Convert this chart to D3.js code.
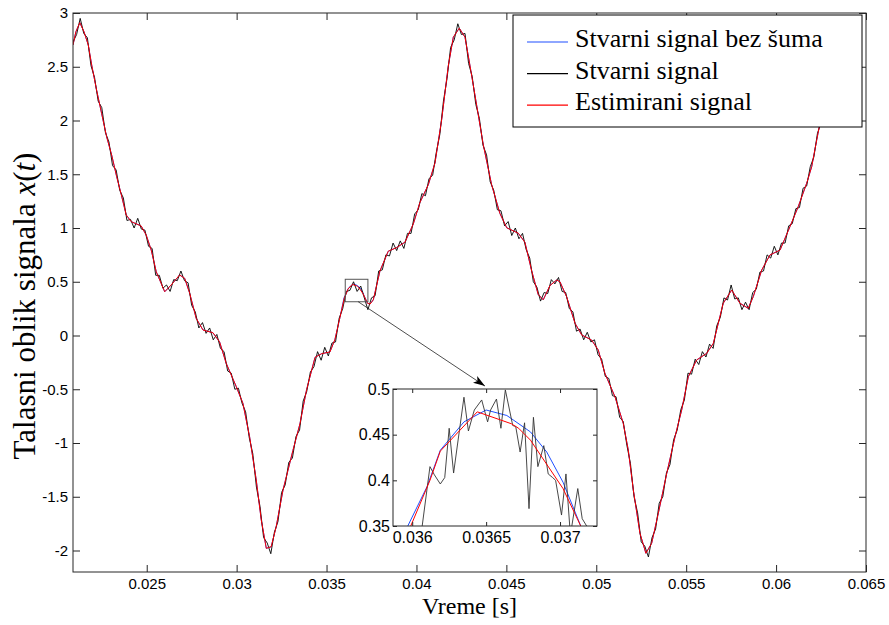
<!DOCTYPE html>
<html>
<head>
<meta charset="utf-8">
<script src="https://cdn.jsdelivr.net/npm/d3@7/dist/d3.min.js"></script>
<style>
    body { margin: 0; background: #fff; }
    svg { display: block; }
    .tick text { font-family: "Liberation Sans", Arial, sans-serif; font-size: 15px; fill: #000; }
    .inset .tick text { font-size: 16px; }
    .tick line { stroke: #262626; }
    .serif { font-family: "Liberation Serif", "Times New Roman", serif; fill: #000; }
</style>
</head>
<body>
<script>
// signal without noise: [time (s), value]
var cleanSig = [
    [0.02090, 2.702], [0.02106, 2.826], [0.02128, 2.910], [0.02151, 2.826],
    [0.02175, 2.702], [0.02194, 2.516], [0.02221, 2.284], [0.02249, 2.067],
    [0.02277, 1.849], [0.02305, 1.679], [0.02333, 1.477], [0.02359, 1.307],
    [0.02386, 1.121], [0.02414, 1.059], [0.02469, 1.019], [0.02497, 0.935],
    [0.02525, 0.795], [0.02553, 0.593], [0.02600, 0.407], [0.02636, 0.470],
    [0.02683, 0.563], [0.02711, 0.532], [0.02739, 0.393], [0.02775, 0.160],
    [0.02813, 0.051], [0.02868, 0.026], [0.02905, -0.058], [0.02942, -0.259],
    [0.02998, -0.476], [0.03035, -0.631], [0.03072, -0.941], [0.03109, -1.344],
    [0.03137, -1.716], [0.03165, -1.980], [0.03192, -1.965], [0.03220, -1.779],
    [0.03258, -1.437], [0.03313, -1.070], [0.03352, -0.822], [0.03389, -0.504],
    [0.03436, -0.203], [0.03473, -0.169], [0.03519, -0.153], [0.03547, -0.035],
    [0.03575, 0.170], [0.03597, 0.350], [0.03610, 0.393], [0.03619, 0.433],
    [0.03635, 0.464], [0.03650, 0.477], [0.03664, 0.471], [0.03680, 0.453],
    [0.03691, 0.431], [0.03702, 0.398], [0.03714, 0.350], [0.03728, 0.300],
    [0.03742, 0.292], [0.03760, 0.332], [0.03797, 0.600], [0.03843, 0.784],
    [0.03890, 0.818], [0.03936, 0.868], [0.03982, 1.035], [0.04019, 1.236],
    [0.04066, 1.403], [0.04103, 1.604], [0.04140, 2.006], [0.04177, 2.507],
    [0.04205, 2.775], [0.04238, 2.859], [0.04270, 2.775], [0.04298, 2.507],
    [0.04335, 2.140], [0.04372, 1.771], [0.04418, 1.403], [0.04464, 1.136],
    [0.04502, 1.002], [0.04566, 0.952], [0.04603, 0.868], [0.04641, 0.600],
    [0.04677, 0.382], [0.04705, 0.332], [0.04743, 0.466], [0.04780, 0.516],
    [0.04798, 0.500], [0.04835, 0.361], [0.04882, 0.113], [0.04919, 0.005],
    [0.04974, -0.042], [0.05011, -0.135], [0.05048, -0.352], [0.05104, -0.570],
    [0.05150, -0.817], [0.05178, -1.065], [0.05206, -1.437], [0.05243, -1.840],
    [0.05276, -2.026], [0.05308, -1.933], [0.05345, -1.654], [0.05392, -1.282],
    [0.05438, -0.941], [0.05475, -0.693], [0.05512, -0.383], [0.05558, -0.228],
    [0.05614, -0.166], [0.05651, -0.073], [0.05706, 0.300], [0.05753, 0.423],
    [0.05799, 0.300], [0.05845, 0.253], [0.05873, 0.361], [0.05920, 0.609],
    [0.05966, 0.749], [0.06022, 0.795], [0.06077, 1.012], [0.06123, 1.198],
    [0.06170, 1.416], [0.06198, 1.570], [0.06226, 1.819], [0.06244, 1.974],
    [0.06278, 2.240], [0.06316, 2.560], [0.06355, 2.800], [0.06383, 2.860]
];

// estimate differs from the clean signal only where the inset shows it
var estBump = [
    [0.03599, 0.350], [0.03612, 0.400], [0.03619, 0.432], [0.03644, 0.475],
    [0.03667, 0.462], [0.03672, 0.457], [0.03680, 0.444], [0.03702, 0.391],
    [0.03714, 0.350]
];

// noisy signal as seen on the big plot, one value every 0.2 ms
var noisyStart = 0.0209;
var noisyStep = 0.0002;
var noisyVals = [
    2.73, 2.80, 2.95, 2.81, 2.77, 2.51, 2.40, 2.18, 2.12, 1.89,
    1.80, 1.58, 1.54, 1.35, 1.28, 1.07, 1.08, 1.00, 1.09, 0.99,
    0.98, 0.83, 0.81, 0.56, 0.56, 0.44, 0.47, 0.41, 0.52, 0.51,
    0.60, 0.51, 0.49, 0.28, 0.22, 0.07, 0.12, 0.02, 0.07, -0.04,
    0.01, -0.12, -0.15, -0.33, -0.35, -0.50, -0.49, -0.63, -0.71, -0.95,
    -1.10, -1.41, -1.59, -1.88, -1.93, -2.03, -1.83, -1.73, -1.46, -1.39,
    -1.18, -1.14, -0.94, -0.88, -0.61, -0.52, -0.34, -0.29, -0.15, -0.23,
    -0.11, -0.19, -0.07, -0.06, 0.16, 0.25, 0.41, 0.42, 0.50, 0.41,
    0.46, 0.35, 0.24, 0.35, 0.37, 0.60, 0.61, 0.75, 0.74, 0.86,
    0.79, 0.88, 0.81, 0.95, 0.95, 1.13, 1.17, 1.32, 1.30, 1.46,
    1.49, 1.70, 1.87, 2.18, 2.39, 2.68, 2.75, 2.90, 2.80, 2.81,
    2.53, 2.41, 2.15, 2.02, 1.77, 1.68, 1.43, 1.35, 1.17, 1.16,
    1.02, 1.06, 0.93, 1.00, 0.90, 0.95, 0.80, 0.72, 0.50, 0.45,
    0.32, 0.40, 0.39, 0.52, 0.48, 0.54, 0.41, 0.40, 0.25, 0.22,
    0.04, 0.06, -0.04, 0.03, -0.06, -0.04, -0.18, -0.22, -0.38, -0.40,
    -0.56, -0.57, -0.76, -0.80, -1.02, -1.19, -1.50, -1.65, -1.92, -1.96,
    -2.06, -1.88, -1.80, -1.56, -1.50, -1.28, -1.20, -0.97, -0.88, -0.69,
    -0.60, -0.35, -0.36, -0.22, -0.27, -0.15, -0.20, -0.08, -0.12, 0.09,
    0.17, 0.35, 0.33, 0.47, 0.34, 0.35, 0.24, 0.31, 0.24, 0.40,
    0.43, 0.59, 0.60, 0.75, 0.72, 0.83, 0.75, 0.86, 0.86, 1.02,
    1.04, 1.18, 1.19, 1.37, 1.39, 1.57, 1.66, 1.88, 1.98, 2.21,
    2.34, 2.55, 2.62, 2.79, 2.80
];

// noisy signal inside the zoomed window
var zoomNoisy = [
    [0.03590, 0.300], [0.03604, 0.316], [0.03612, 0.415], [0.03615, 0.406],
    [0.03619, 0.396], [0.03622, 0.403], [0.03625, 0.457], [0.03628, 0.408],
    [0.03635, 0.491], [0.03638, 0.454], [0.03642, 0.477], [0.03647, 0.488],
    [0.03651, 0.464], [0.03653, 0.477], [0.03657, 0.489], [0.03660, 0.457],
    [0.03663, 0.499], [0.03668, 0.460], [0.03670, 0.459], [0.03673, 0.431],
    [0.03676, 0.463], [0.03679, 0.369], [0.03682, 0.469], [0.03685, 0.415],
    [0.03689, 0.438], [0.03692, 0.407], [0.03695, 0.403], [0.03697, 0.400],
    [0.03701, 0.362], [0.03704, 0.407], [0.03707, 0.340], [0.03712, 0.391],
    [0.03715, 0.358], [0.03718, 0.350], [0.03722, 0.345], [0.03728, 0.300]
];

var xTicks = [0.025, 0.03, 0.035, 0.04, 0.045, 0.05, 0.055, 0.06, 0.065];
var yTicks = [-2, -1.5, -1, -0.5, 0, 0.5, 1, 1.5, 2, 2.5, 3];
var insetXTicks = [0.036, 0.0365, 0.037];
var insetYTicks = [0.35, 0.4, 0.45, 0.5];
var legendLabels = ["Stvarni signal bez šuma", "Stvarni signal", "Estimirani signal"];
var seriesColors = ["#1f4fff", "#000000", "#ff0000"];

// window that is blown up in the inset, and where the arrow points
var zoomBox = { t: [0.03604, 0.03730], v: [0.314, 0.523] };
var arrowFrom = [0.03676, 0.314];
var arrowTo = [0.04381, -0.47];

var width = 889, height = 625;
var svg = d3.select("body").append("svg")
    .attr("width", width)
    .attr("height", height);

var x = d3.scaleLinear().domain([0.0209, 0.065]).range([73, 866]);
var y = d3.scaleLinear().domain([-2.2, 3]).range([572, 13]);

var fmt = function (d) { return String(+d.toFixed(5)); };

var noisySig = noisyVals.map(function (v, i) {
    return [noisyStart + i * noisyStep, v];
});
var estSig = cleanSig.filter(function (d) {
    return d[0] < 0.0359 || d[0] > 0.0372;
}).concat(estBump).sort(function (a, b) { return a[0] - b[0]; });

// ---- main axes ----
svg.append("defs").append("clipPath").attr("id", "mainClip")
    .append("rect")
    .attr("x", x.range()[0]).attr("y", y.range()[1])
    .attr("width", x.range()[1] - x.range()[0])
    .attr("height", y.range()[0] - y.range()[1]);

var mainLine = d3.line()
    .x(function (d) { return x(d[0]); })
    .y(function (d) { return y(d[1]); });

var plot = svg.append("g").attr("clip-path", "url(#mainClip)");
[cleanSig, noisySig, estSig].forEach(function (s, i) {
    plot.append("path")
        .datum(s)
        .attr("fill", "none")
        .attr("stroke", seriesColors[i])
        .attr("stroke-width", i === 1 ? 0.9 : 1)
        .attr("d", mainLine);
});

svg.append("g")
    .attr("transform", "translate(0," + y.range()[0] + ")")
    .call(d3.axisBottom(x).tickValues(xTicks).tickFormat(fmt)
        .tickSizeInner(-7).tickSizeOuter(0).tickPadding(6))
    .call(function (g) { g.select(".domain").remove(); });
svg.append("g")
    .attr("transform", "translate(0," + y.range()[1] + ")")
    .call(d3.axisTop(x).tickValues(xTicks).tickFormat("")
        .tickSizeInner(-7).tickSizeOuter(0))
    .call(function (g) { g.select(".domain").remove(); });
svg.append("g")
    .attr("transform", "translate(" + x.range()[0] + ",0)")
    .call(d3.axisLeft(y).tickValues(yTicks).tickFormat(fmt)
        .tickSizeInner(-7).tickSizeOuter(0).tickPadding(5))
    .call(function (g) { g.select(".domain").remove(); });
svg.append("g")
    .attr("transform", "translate(" + x.range()[1] + ",0)")
    .call(d3.axisRight(y).tickValues(yTicks).tickFormat("")
        .tickSizeInner(-7).tickSizeOuter(0))
    .call(function (g) { g.select(".domain").remove(); });

svg.append("rect")
    .attr("x", x.range()[0]).attr("y", y.range()[1])
    .attr("width", x.range()[1] - x.range()[0])
    .attr("height", y.range()[0] - y.range()[1])
    .attr("fill", "none").attr("stroke", "#262626");

// axis titles
svg.append("text").attr("class", "serif")
    .attr("x", (x.range()[0] + x.range()[1]) / 2)
    .attr("y", 614)
    .attr("text-anchor", "middle")
    .style("font-size", "24px")
    .text("Vreme [s]");

var ylab = svg.append("text").attr("class", "serif")
    .attr("transform", "translate(35,306) rotate(-90)")
    .attr("text-anchor", "middle")
    .style("font-size", "31px");
ylab.append("tspan").text("Talasni oblik signala ");
ylab.append("tspan").style("font-style", "italic").text("x");
ylab.append("tspan").text("(");
ylab.append("tspan").style("font-style", "italic").text("t");
ylab.append("tspan").text(")");

// ---- zoom window and arrow ----
svg.append("rect")
    .attr("x", x(zoomBox.t[0])).attr("y", y(zoomBox.v[1]))
    .attr("width", x(zoomBox.t[1]) - x(zoomBox.t[0]))
    .attr("height", y(zoomBox.v[0]) - y(zoomBox.v[1]))
    .attr("fill", "none").attr("stroke", "#555").attr("stroke-width", 1);

svg.select("defs").append("marker")
    .attr("id", "head")
    .attr("viewBox", "0 0 12 8")
    .attr("refX", 12).attr("refY", 4)
    .attr("markerWidth", 12).attr("markerHeight", 8)
    .attr("markerUnits", "userSpaceOnUse")
    .attr("orient", "auto")
    .append("path").attr("d", "M0,0 L12,4 L0,8 L3,4 z").attr("fill", "#000");

svg.append("line")
    .attr("x1", x(arrowFrom[0])).attr("y1", y(arrowFrom[1]))
    .attr("x2", x(arrowTo[0])).attr("y2", y(arrowTo[1]))
    .attr("stroke", "#222").attr("stroke-width", 0.8)
    .attr("marker-end", "url(#head)");

// ---- legend ----
var leg = svg.append("g").attr("transform", "translate(513,15)");
leg.append("rect")
    .attr("width", 349).attr("height", 112)
    .attr("fill", "#fff").attr("stroke", "#000").attr("stroke-width", 1);
var rows = leg.selectAll("g.row").data(legendLabels).enter().append("g")
    .attr("class", "row")
    .attr("transform", function (d, i) { return "translate(0," + (32 + i * 31.6) + ")"; });
rows.append("line")
    .attr("x1", 14).attr("x2", 55).attr("y1", -5).attr("y2", -5)
    .attr("stroke", function (d, i) { return seriesColors[i]; })
    .attr("stroke-width", 1.2);
rows.append("text").attr("class", "serif")
    .attr("x", 62).attr("y", 0)
    .style("font-size", "26px")
    .text(function (d) { return d; });

// ---- inset ----
var ix = d3.scaleLinear().domain([0.03587, 0.03725]).range([393, 597]);
var iy = d3.scaleLinear().domain([0.35, 0.5]).range([526, 389]);

svg.append("rect")
    .attr("x", ix.range()[0]).attr("y", iy.range()[1])
    .attr("width", ix.range()[1] - ix.range()[0])
    .attr("height", iy.range()[0] - iy.range()[1])
    .attr("fill", "#fff");

svg.select("defs").append("clipPath").attr("id", "insetClip")
    .append("rect")
    .attr("x", ix.range()[0]).attr("y", iy.range()[1])
    .attr("width", ix.range()[1] - ix.range()[0])
    .attr("height", iy.range()[0] - iy.range()[1]);

var insetLine = d3.line()
    .x(function (d) { return ix(d[0]); })
    .y(function (d) { return iy(d[1]); });

var inset = svg.append("g").attr("class", "inset");
var insetPlot = inset.append("g").attr("clip-path", "url(#insetClip)");
[cleanSig, zoomNoisy, estSig].forEach(function (s, i) {
    insetPlot.append("path")
        .datum(s)
        .attr("fill", "none")
        .attr("stroke", i === 1 ? "#333" : seriesColors[i])
        .attr("stroke-width", i === 1 ? 0.9 : 1)
        .attr("d", insetLine);
});

inset.append("g")
    .attr("transform", "translate(0," + iy.range()[0] + ")")
    .call(d3.axisBottom(ix).tickValues(insetXTicks).tickFormat(fmt)
        .tickSizeInner(-4).tickSizeOuter(0).tickPadding(6))
    .call(function (g) { g.select(".domain").remove(); });
inset.append("g")
    .attr("transform", "translate(0," + iy.range()[1] + ")")
    .call(d3.axisTop(ix).tickValues(insetXTicks).tickFormat("")
        .tickSizeInner(-4).tickSizeOuter(0))
    .call(function (g) { g.select(".domain").remove(); });
inset.append("g")
    .attr("transform", "translate(" + ix.range()[0] + ",0)")
    .call(d3.axisLeft(iy).tickValues(insetYTicks).tickFormat(fmt)
        .tickSizeInner(-4).tickSizeOuter(0).tickPadding(3))
    .call(function (g) { g.select(".domain").remove(); });
inset.append("g")
    .attr("transform", "translate(" + ix.range()[1] + ",0)")
    .call(d3.axisRight(iy).tickValues(insetYTicks).tickFormat("")
        .tickSizeInner(-4).tickSizeOuter(0))
    .call(function (g) { g.select(".domain").remove(); });

inset.append("rect")
    .attr("x", ix.range()[0]).attr("y", iy.range()[1])
    .attr("width", ix.range()[1] - ix.range()[0])
    .attr("height", iy.range()[0] - iy.range()[1])
    .attr("fill", "none").attr("stroke", "#262626");
</script>
</body>
</html>
